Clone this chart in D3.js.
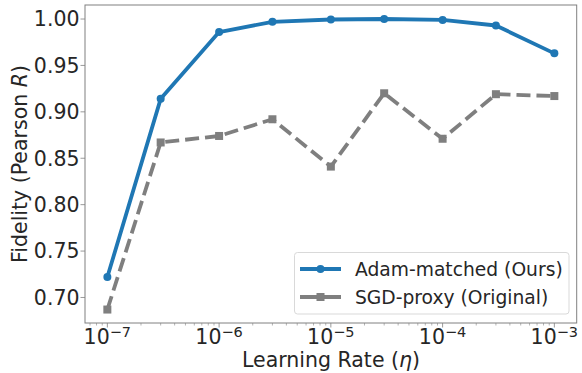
<!DOCTYPE html>
<html>
<head>
<meta charset="utf-8">
<script src="https://cdn.jsdelivr.net/npm/d3@7"></script>
<style>
  body { margin: 0; background: #fff; }
  text { font-family: "DejaVu Sans", sans-serif; }
</style>
</head>
<body>
<div id="chart"></div>
<script>
const width = 582;
const height = 373;
const margin = ({top: 5, right: 5, bottom: 50, left: 85});

// data
const learningRates = [1e-7, 3e-7, 1e-6, 3e-6, 1e-5, 3e-5, 1e-4, 3e-4, 1e-3];
const adamValues = [0.722, 0.914, 0.986, 0.997, 0.9995, 1.000, 0.999, 0.993, 0.963];
const sgdValues = [0.687, 0.867, 0.874, 0.892, 0.841, 0.920, 0.871, 0.919, 0.917];
const yTicks = [0.70, 0.75, 0.80, 0.85, 0.90, 0.95, 1.00];
const xTicks = [1e-7, 1e-6, 1e-5, 1e-4, 1e-3];
const seriesNames = ["Adam-matched (Ours)", "SGD-proxy (Original)"];

const blue = "#1f77b4";
const grey = "#7f7f7f";
const spine = "#808080";
const fs = 20.5;
const lw = 3.8;

let svg = d3.select("#chart").append("svg")
    .attr("width", width)
    .attr("height", height);

let xScale = d3.scaleLog()
    .domain([Math.pow(10, -7.2), Math.pow(10, -2.8)])
    .range([margin.left, width - margin.right - 0.3]);

let yScale = d3.scaleLinear()
    .domain([0.6725, 1.0151])
    .range([height - margin.bottom, margin.top]);

// minor ticks on the log axis
let minor = [];
for (let e = -8; e <= -3; e++) {
    for (let m = 2; m <= 9; m++) {
        let v = m * Math.pow(10, e);
        if (v >= xScale.domain()[0] && v <= xScale.domain()[1]) minor.push(v);
    }
}

let xAxis = svg.append("g")
    .attr("transform", "translate(0," + (height - margin.bottom) + ")");

xAxis.selectAll(".minor").data(minor).enter()
    .append("line")
    .attr("x1", d => xScale(d)).attr("x2", d => xScale(d))
    .attr("y1", 0).attr("y2", 2.5)
    .attr("stroke", spine).attr("stroke-width", 0.6);

xAxis.selectAll(".major").data(xTicks).enter()
    .append("line")
    .attr("x1", d => xScale(d)).attr("x2", d => xScale(d))
    .attr("y1", 0).attr("y2", 4.5)
    .attr("stroke", spine).attr("stroke-width", 0.8);

let xl = xAxis.selectAll(".xlab").data(xTicks).enter()
    .append("text")
    .attr("x", d => xScale(d))
    .attr("y", 21)
    .attr("text-anchor", "middle")
    .attr("font-size", fs)
    .attr("fill", "#262626");
xl.append("tspan").text("10");
xl.append("tspan")
    .attr("dy", -6.7)
    .attr("font-size", 14.5)
    .text(d => "\u2212" + Math.round(-Math.log10(d)));

let yAxis = svg.append("g")
    .attr("transform", "translate(" + margin.left + ",0)");

yAxis.selectAll(".ytick").data(yTicks).enter()
    .append("line")
    .attr("x1", -4.5).attr("x2", 0)
    .attr("y1", d => yScale(d)).attr("y2", d => yScale(d))
    .attr("stroke", spine).attr("stroke-width", 0.8);

yAxis.selectAll(".ylab").data(yTicks).enter()
    .append("text")
    .attr("x", -5.5)
    .attr("y", d => yScale(d))
    .attr("dy", "0.36em")
    .attr("text-anchor", "end")
    .attr("font-size", fs)
    .attr("fill", "#262626")
    .text(d => d.toFixed(2));

// frame
svg.append("rect")
    .attr("x", margin.left)
    .attr("y", margin.top)
    .attr("width", width - margin.left - margin.right - 0.3)
    .attr("height", height - margin.top - margin.bottom)
    .attr("fill", "none")
    .attr("stroke", spine)
    .attr("stroke-width", 1);

// axis titles
let xt = svg.append("text")
    .attr("x", (margin.left + width - margin.right) / 2)
    .attr("y", 366.5)
    .attr("text-anchor", "middle")
    .attr("font-size", fs)
    .attr("fill", "#262626");
xt.append("tspan").text("Learning Rate (");
xt.append("tspan").attr("font-style", "italic").text("\u03b7");
xt.append("tspan").text(")");

let yt = svg.append("text")
    .attr("transform", "translate(26.5," + ((margin.top + height - margin.bottom) / 2) + ") rotate(-90)")
    .attr("text-anchor", "middle")
    .attr("font-size", fs)
    .attr("fill", "#262626");
yt.append("tspan").text("Fidelity (Pearson ");
yt.append("tspan").attr("font-style", "italic").text("R");
yt.append("tspan").text(")");

// series
let line = d3.line()
    .x(d => xScale(d[0]))
    .y(d => yScale(d[1]));

let adam = learningRates.map((d, i) => [d, adamValues[i]]);
let sgd = learningRates.map((d, i) => [d, sgdValues[i]]);

svg.append("path")
    .datum(sgd)
    .attr("d", line)
    .attr("fill", "none")
    .attr("stroke", grey)
    .attr("stroke-width", lw)
    .attr("stroke-dasharray", "14,6");

svg.selectAll(".sq").data(sgd).enter()
    .append("rect")
    .attr("x", d => xScale(d[0]) - 4)
    .attr("y", d => yScale(d[1]) - 4)
    .attr("width", 8).attr("height", 8)
    .attr("fill", grey);

svg.append("path")
    .datum(adam)
    .attr("d", line)
    .attr("fill", "none")
    .attr("stroke", blue)
    .attr("stroke-width", lw)
    .attr("stroke-linejoin", "round");

svg.selectAll(".dot").data(adam).enter()
    .append("circle")
    .attr("cx", d => xScale(d[0]))
    .attr("cy", d => yScale(d[1]))
    .attr("r", 4)
    .attr("fill", blue);

// legend
let legend = svg.append("g");
legend.append("rect")
    .attr("x", 294.5).attr("y", 252.5)
    .attr("width", 274.5).attr("height", 61.5)
    .attr("rx", 3)
    .attr("fill", "#fff")
    .attr("fill-opacity", 0.8)
    .attr("stroke", "#d9d9d9")
    .attr("stroke-width", 1);

let entries = legend.selectAll(".entry").data(seriesNames).enter()
    .append("g")
    .attr("transform", (d, i) => "translate(0," + (269 + i * 28) + ")");

entries.append("line")
    .attr("x1", 300).attr("x2", 341)
    .attr("y1", 0).attr("y2", 0)
    .attr("stroke", (d, i) => i === 0 ? blue : grey)
    .attr("stroke-width", lw);

entries.filter((d, i) => i === 0).append("circle")
    .attr("cx", 320.5).attr("cy", 0).attr("r", 4).attr("fill", blue);
entries.filter((d, i) => i === 1).append("rect")
    .attr("x", 316.5).attr("y", -4).attr("width", 8).attr("height", 8).attr("fill", grey);

entries.append("text")
    .attr("x", 355)
    .attr("y", 0)
    .attr("dy", "0.36em")
    .attr("font-size", 18.7)
    .attr("fill", "#262626")
    .text(d => d);
</script>
</body>
</html>
